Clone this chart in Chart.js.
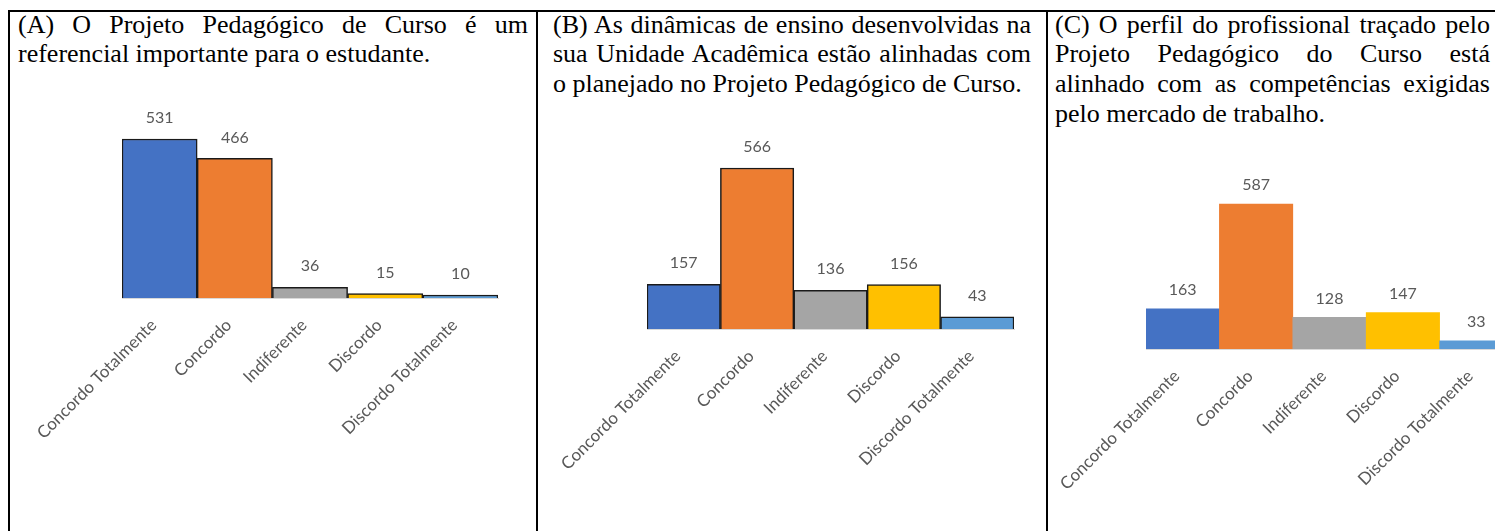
<!DOCTYPE html>
<html>
<head>
<meta charset="utf-8">
<script src="https://cdn.jsdelivr.net/npm/chart.js@4.4.1/dist/chart.umd.min.js"></script>
<style>
  html, body { margin: 0; padding: 0; background: #fff; }
  body { width: 1495px; height: 531px; overflow: hidden; position: relative; }
  .rule { position: absolute; background: #000; }
  .title { position: absolute; font-family: "Liberation Serif", "Times New Roman", serif; font-size: 26px; line-height: 29.7px; color: #000; }
  .title .ln { white-space: nowrap; }
  .title .j { text-align: justify; text-align-last: justify; }
  canvas { position: absolute; }
</style>
</head>
<body>
<div class="rule" style="left:8px; top:10px; width:1487px; height:2px;"></div>
<div class="rule" style="left:8px; top:10px; width:2px; height:521px;"></div>
<div class="rule" style="left:536px; top:10px; width:2px; height:521px;"></div>
<div class="rule" style="left:1046px; top:10px; width:2px; height:521px;"></div>

<div class="title" id="tA" style="left:18px; top:9.5px; width:510px;"></div>
<div class="title" id="tB" style="left:553px; top:9.5px; width:478px;"></div>
<div class="title" id="tC" style="left:1055px; top:9.5px; width:435px;"></div>

<canvas id="cA" width="525" height="441" style="left:10px; top:90px;"></canvas>
<canvas id="cB" width="505" height="431" style="left:540px; top:100px;"></canvas>
<canvas id="cC" width="480" height="401" style="left:1049px; top:130px;"></canvas>

<script>
// ---- Data ----
const categories = ["Concordo Totalmente", "Concordo", "Indiferente", "Discordo", "Discordo Totalmente"];
const valuesA = [531, 466, 36, 15, 10];
const valuesB = [157, 566, 136, 156, 43];
const valuesC = [163, 587, 128, 147, 33];
const titleA = ["(A) O Projeto Pedagógico de Curso é um", "referencial importante para o estudante."];
const titleB = ["(B) As dinâmicas de ensino desenvolvidas na", "sua Unidade Acadêmica estão alinhadas com", "o planejado no Projeto Pedagógico de Curso."];
const titleC = ["(C) O perfil do profissional traçado pelo", "Projeto Pedagógico do Curso está", "alinhado com as competências exigidas", "pelo mercado de trabalho."];
const barColors = ["#4472C4", "#ED7D31", "#A5A5A5", "#FFC000", "#5B9BD5"];

function setTitle(id, lines) {
  const el = document.getElementById(id);
  lines.forEach((t, i) => {
    const d = document.createElement('div');
    d.className = 'ln' + (i < lines.length - 1 ? ' j' : '');
    d.textContent = t;
    el.appendChild(d);
  });
}
setTitle('tA', titleA);
setTitle('tB', titleB);
setTitle('tC', titleC);

const FONT = "Lato";
const TXT = "#595959";

const valueLabels = {
  id: 'valueLabels',
  afterDatasetsDraw(chart, args, opts) {
    const ctx = chart.ctx;
    ctx.save();
    ctx.font = opts.size + "px " + FONT;
    ctx.fillStyle = TXT;
    ctx.textAlign = 'center';
    ctx.textBaseline = 'middle';
    const meta = chart.getDatasetMeta(0);
    const data = chart.data.datasets[0].data;
    meta.data.forEach((bar, i) => {
      ctx.fillText(String(data[i]), bar.x, bar.y - opts.offset);
    });
    ctx.restore();
  }
};

function makeChart(id, values, cfg) {
  const canvas = document.getElementById(id);
  const top = cfg.baseline - cfg.yMax * cfg.ppu;
  return new Chart(canvas, {
    type: 'bar',
    data: {
      labels: categories,
      datasets: [{
        data: values,
        backgroundColor: barColors,
        borderColor: '#1a1a1a',
        borderWidth: cfg.border,
        categoryPercentage: 1,
        barPercentage: 1
      }]
    },
    plugins: [valueLabels],
    options: {
      responsive: false,
      animation: false,
      events: [],
      layout: { padding: { left: cfg.left, right: cfg.right, top: top - cfg.canvasTop, bottom: 0 } },
      plugins: {
        legend: { display: false },
        tooltip: { enabled: false },
        valueLabels: { size: 16, offset: cfg.labelOffset }
      },
      scales: {
        y: { display: false, min: 0, max: cfg.yMax },
        x: {
          offset: true,
          grid: { display: false, drawTicks: false },
          border: { display: true, color: '#d9d9d9', width: 1 },
          ticks: {
            minRotation: 45, maxRotation: 45, autoSkip: false,
            padding: 17,
            labelOffset: -6,
            color: TXT,
            font: { family: FONT, size: 17 }
          },
          afterFit(scale) {
            scale.height = cfg.canvasBottom - cfg.baseline;
            scale.paddingLeft = 0;
            scale.paddingRight = 0;
          }
        }
      }
    }
  });
}

function draw() {
  makeChart('cA', valuesA, { baseline: 298, ppu: 0.2995, yMax: 580, canvasTop: 90, canvasBottom: 531, left: 112, right: 37, border: 1.5, labelOffset: 21 });
  makeChart('cB', valuesB, { baseline: 329, ppu: 0.2845, yMax: 620, canvasTop: 100, canvasBottom: 531, left: 107, right: 31, border: 1.5, labelOffset: 21 });
  makeChart('cC', valuesC, { baseline: 349, ppu: 0.247, yMax: 640, canvasTop: 130, canvasBottom: 531, left: 97, right: 16, border: 0, labelOffset: 19 });
}

const fontLoads = [document.fonts.load("16px Lato"), document.fonts.load("26px 'Liberation Serif'")];
Promise.all(fontLoads).then(draw, draw);
</script>
</body>
</html>
